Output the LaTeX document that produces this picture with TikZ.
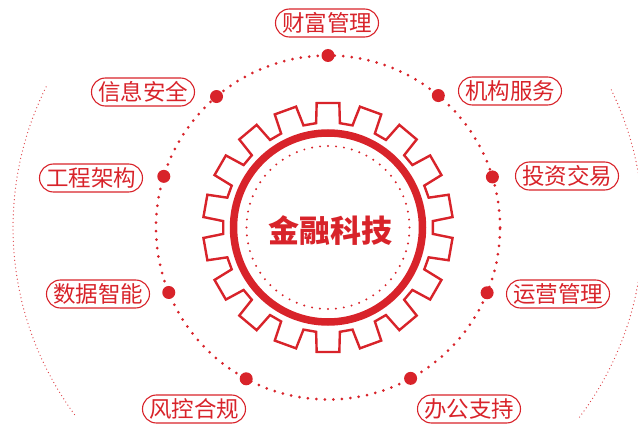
\documentclass[tikz,border=0pt]{standalone}
\usepackage{fontspec}
\newfontfamily\cjk{Noto Sans CJK SC}
\usetikzlibrary{calc}
\definecolor{fred}{HTML}{D8232A}
\tikzset{
  lbl/.style={draw=fred, line width=1.1pt, rounded corners=14pt, minimum width=103pt, minimum height=28pt, inner sep=0pt, text=fred, font=\cjk\fontsize{22.5}{22.5}\selectfont},
  bigdot/.style={circle, fill=fred, draw=none, minimum size=13pt, inner sep=0pt},
  gearline/.style={draw=fred, line width=2.4pt, line join=miter},
  ring/.style={draw=fred, line width=7.5pt},
  smalldots/.style={draw=fred, line width=2.2pt, line cap=round, dash pattern=on 0pt off 8pt},
  middots/.style={draw=fred, line width=3pt, line cap=round, dash pattern=on 0pt off 8.5pt},
  finedots/.style={draw=fred!85, line width=1.3pt, line cap=round, dash pattern=on 0pt off 3.8pt}
}
\begin{document}
\begin{tikzpicture}[x=1pt,y=-1pt]
\useasboundingbox (0,0) rectangle (638,425);
\coordinate (c) at (328,227.5);
% far arcs
\begin{scope}[shift={(c)}]
  \draw[finedots] (153.5:315pt) arc[start angle=153.5, end angle=216.5, radius=315pt];
  \draw[finedots] (-37:315pt) arc[start angle=-37, end angle=26.5, radius=315pt];
  % outer dotted circle
  \draw[middots] (0,0) circle[radius=172pt];
  % gear
  \draw[gearline] (83.5:105pt) \foreach \k in {0,...,17}{
      -- ({90+20*\k-6.5}:105pt) -- ({90+20*\k-5.2}:125pt) -- ({90+20*\k+5.2}:125pt) -- ({90+20*\k+6.5}:105pt)
    } -- cycle;
  \draw[ring] (0,0) circle[radius=94.5pt];
  \draw[smalldots] (0,0) circle[radius=81.5pt];
\end{scope}
\node[font=\cjk\bfseries\fontsize{31}{31}\selectfont, text=fred] (center) at (330,231) {金融科技};
% dots
\node[bigdot] (d1) at ($(c)+(90:172pt)$) {};
\node[bigdot] (d2) at ($(c)+(50.1:172pt)$) {};
\node[bigdot] (d3) at ($(c)+(17.1:172pt)$) {};
\node[bigdot] (d4) at ($(c)+(-22.3:172pt)$) {};
\node[bigdot] (d5) at ($(c)+(-61.3:172pt)$) {};
\node[bigdot] (d6) at ($(c)+(-118.4:172pt)$) {};
\node[bigdot] (d7) at ($(c)+(-157.8:172pt)$) {};
\node[bigdot] (d8) at ($(c)+(162.7:172pt)$) {};
\node[bigdot] (d9) at ($(c)+(130.4:172pt)$) {};
% labels
\node[lbl] (l1) at (327,23) {财富管理};
\node[lbl] (l2) at (510,91) {机构服务};
\node[lbl] (l3) at (567,176) {投资交易};
\node[lbl] (l4) at (558,294) {运营管理};
\node[lbl] (l5) at (469,409) {办公支持};
\node[lbl] (l6) at (194,409) {风控合规};
\node[lbl] (l7) at (98,294) {数据智能};
\node[lbl] (l8) at (91,178) {工程架构};
\node[lbl] (l9) at (143,92) {信息安全};
\end{tikzpicture}
\end{document}
